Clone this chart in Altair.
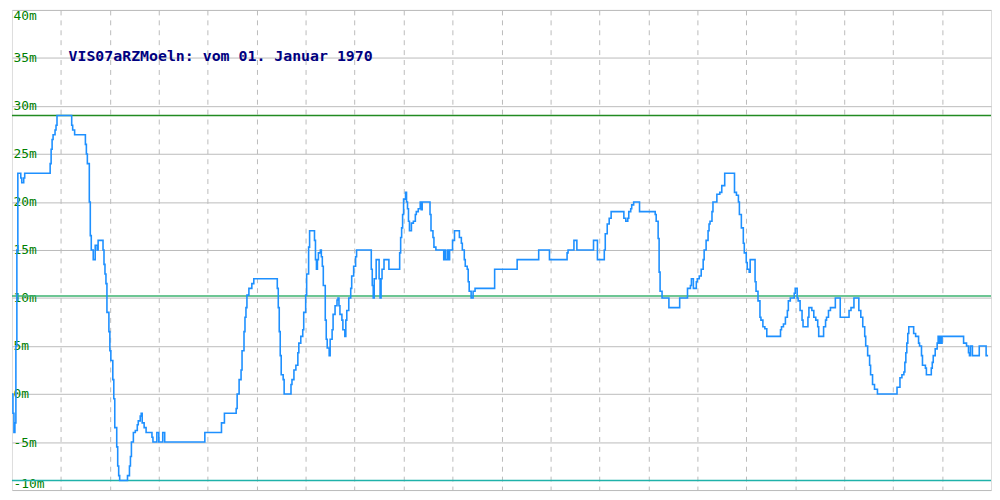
import altair as alt
import pandas as pd

# time index (sample position) and water level in metres
time_idx = [0, 1, 2, 3, 4, 5, 6, 9, 10, 12, 13, 39, 40, 41, 42, 44, 45, 46, 61, 62,
            64, 75, 76, 77, 79, 80, 81, 83, 85, 87, 88, 93, 94, 95, 96, 97, 99, 100, 101, 103,
            104, 105, 107, 108, 109, 110, 118, 120, 121, 122, 124, 126, 128, 129, 131, 132, 133, 135, 137, 143,
            144, 148, 150, 154, 156, 197, 214, 217, 229, 230, 232, 234, 235, 237, 238, 239, 240, 242, 245, 247,
            271, 272, 273, 274, 275, 277, 278, 285, 286, 288, 290, 292, 293, 295, 297, 298, 300, 301, 303, 304,
            309, 310, 311, 312, 313, 315, 316, 317, 318, 320, 321, 322, 324, 325, 327, 328, 330, 332, 333, 334,
            335, 337, 338, 340, 341, 342, 344, 346, 347, 349, 351, 352, 367, 368, 369, 370, 372, 375, 376, 377,
            378, 380, 385, 396, 397, 398, 399, 400, 402, 403, 404, 405, 406, 408, 410, 412, 413, 415, 417, 418,
            419, 427, 428, 430, 431, 433, 441, 442, 443, 445, 446, 447, 450, 452, 457, 459, 460, 462, 463, 465,
            466, 467, 469, 471, 473, 493, 516, 538, 549, 567, 568, 574, 577, 594, 598, 605, 606, 608, 610, 612,
            625, 627, 629, 630, 632, 633, 635, 641, 657, 658, 660, 661, 662, 664, 671, 682, 690, 693, 694, 696,
            699, 700, 702, 704, 706, 707, 709, 711, 712, 713, 715, 716, 720, 723, 725, 728, 738, 740, 742, 743,
            745, 747, 748, 750, 751, 753, 754, 759, 760, 762, 764, 765, 767, 769, 771, 785, 786, 788, 790, 792,
            793, 795, 799, 800, 802, 803, 805, 807, 808, 813, 814, 817, 819, 821, 823, 824, 829, 831, 832, 834,
            836, 841, 846, 855, 857, 860, 865, 867, 869, 871, 872, 874, 876, 877, 879, 881, 884, 904, 907, 909,
            911, 912, 913, 914, 915, 916, 921, 923, 926, 927, 929, 930, 933, 934, 939, 940, 941, 943, 945, 946,
            947, 948, 949, 950, 972, 975, 977, 978, 979, 981, 988, 995, 997]
level_m = [0, -2, -4, -3, 5, 15, 23, 22.5, 22, 22.5, 23, 24, 25.5, 26.5, 27, 27.5, 28, 29, 28, 27.5,
           27, 26, 25, 24, 20, 16.5, 15, 14, 15.5, 15, 16, 15, 13.5, 12.5, 11.5, 8.5, 6.5, 4.5, 3.5, 1.5,
           -0.5, -3.5, -5.5, -7.5, -8.5, -9, -8.5, -7.5, -6.5, -5, -4, -3.8, -3.2, -2.8, -2.3, -2, -3, -3.5, -4, -4.5,
           -5, -4, -5, -4, -5, -4, -3, -2, -1.5, 0, 1.5, 2.5, 4.5, 6.5, 8, 9, 10.3, 11, 11.5, 12,
           11, 9, 6.5, 4, 2, 1.5, 0, 1, 1.5, 2.5, 3, 4.3, 5.3, 6, 6.7, 8.5, 10.3, 12.5, 15.3, 17,
           16, 14, 13, 14, 14.7, 15, 14.3, 13.3, 11.3, 7.7, 5.7, 4.8, 4, 5.7, 6.7, 8.3, 9.2, 9.8, 10, 9.2,
           8.3, 7.7, 6.7, 6, 7.7, 8.7, 10, 11, 12.3, 13.3, 14.3, 15, 13, 11.3, 10, 12, 14, 12, 10, 12,
           13, 14, 13, 14.7, 16.3, 17.3, 18.7, 20.3, 21, 20, 19.3, 18, 17, 17.8, 18, 18.7, 19, 19.3, 20, 19.2,
           20, 18.7, 17, 16.3, 15.3, 15, 14, 15, 14, 15, 14, 15, 16, 17, 16.3, 15.7, 15, 14, 13.3, 13,
           11.7, 10.7, 10, 10.7, 11, 13, 14, 15, 14, 14.7, 15, 16, 15, 16, 14, 15, 16.7, 17.7, 18.3, 19,
           18.3, 18, 18.3, 19, 19.3, 19.7, 20, 19, 18.7, 18, 16.2, 12.7, 10.7, 10, 9, 10, 11, 11.3, 12, 11,
           11.7, 12, 12.3, 13, 14, 15, 16, 17, 17.7, 18, 19, 20, 20.8, 21, 21.7, 23, 21, 20.7, 20, 18.7,
           17.3, 15.7, 14.7, 13.7, 13, 12.7, 14, 11.7, 10.7, 9.7, 8, 7.7, 7, 6.8, 6, 6.7, 7, 7.3, 8, 8.7,
           9.7, 10, 10.5, 11, 10, 9.7, 8.7, 7.7, 7, 8, 9, 8.7, 8, 7.7, 7, 6, 7, 7.7, 8, 8.7,
           9, 10, 8, 8.7, 9, 10, 8.7, 8, 7, 6, 5, 4, 3, 2, 1, 0.5, 0, 0.7, 1.7, 2,
           2.3, 3.3, 4.3, 5.3, 6.3, 7, 6.3, 6, 5.3, 5, 4, 3, 2.7, 2, 2.7, 3.3, 4, 4.7, 5.3, 6,
           5.3, 6, 5.3, 6, 5.3, 5, 4.3, 4, 5, 4, 5, 4, 4]
assert len(time_idx) == len(level_m)

# limit lines
limit_values = [29, 10.2, -9.0]
limit_names = ["upper", "middle", "lower"]
limit_colors = ["#228b22", "#3cb371", "#20b2aa"]

# axis ticks / labels
y_ticks = [-10, -5, 0, 5, 10, 15, 20, 25, 30, 35, 40]
y_labels = ["\u00a0-10m", "\u00a0-5m", "\u00a00m", "\u00a05m", "10m", "15m", "20m", "25m", "30m", "35m", "40m"]
x_ticks = list(range(50, 1000, 50))

title_text = "VIS07aRZMoeln: vom 01. Januar 1970"

label_expr = "''"
for v, s in zip(y_ticks, y_labels):
    label_expr = f"datum.value == {v} ? '{s}' : ({label_expr})"

series = pd.DataFrame({"t": time_idx, "v": level_m})
limits = pd.DataFrame({"v": limit_values, "name": limit_names})

x_scale = alt.Scale(domain=[0, 1000], nice=False, zero=False)
y_scale = alt.Scale(domain=[-10, 40], nice=False, zero=False)

x_axis = alt.Axis(values=x_ticks, grid=True, gridDash=[5, 5], gridColor="#bbbbbb",
                  gridWidth=1, labels=False, ticks=False, domain=False, title=None)
y_axis = alt.Axis(values=y_ticks, grid=True, gridColor="#bbbbbb", gridWidth=1,
                  ticks=False, domain=False, title=None, labelAlign="left",
                  labelPadding=-1, labelFlush=True, labelColor="#008000",
                  labelFont="DejaVu Sans Mono", labelFontSize=13, labelExpr=label_expr)

line = alt.Chart(series).mark_line(interpolate="step-after", color="#1e90ff", strokeWidth=1.6).encode(
    x=alt.X("t:Q", scale=x_scale, axis=x_axis),
    y=alt.Y("v:Q", scale=y_scale, axis=y_axis),
)

rules = alt.Chart(limits).mark_rule(strokeWidth=1.5).encode(
    y=alt.Y("v:Q", scale=y_scale),
    color=alt.Color("name:N", scale=alt.Scale(domain=limit_names, range=limit_colors), legend=None),
)

title = alt.Chart(pd.DataFrame({"text": [title_text]})).mark_text(
    align="left", baseline="alphabetic", font="DejaVu Sans Mono", fontSize=15,
    fontWeight="bold", color="#000080"
).encode(text="text:N", x=alt.value(57), y=alt.value(51))

chart = alt.layer(rules, line, title).properties(
    width=992, height=484,
    autosize=alt.AutoSizeParams(type="fit", contains="padding"),
    padding=0,
).configure_view(stroke="#bbbbbb", strokeWidth=1).configure(background="white")

chart.save("out.html", embed_options={"renderer": "svg", "actions": False})
